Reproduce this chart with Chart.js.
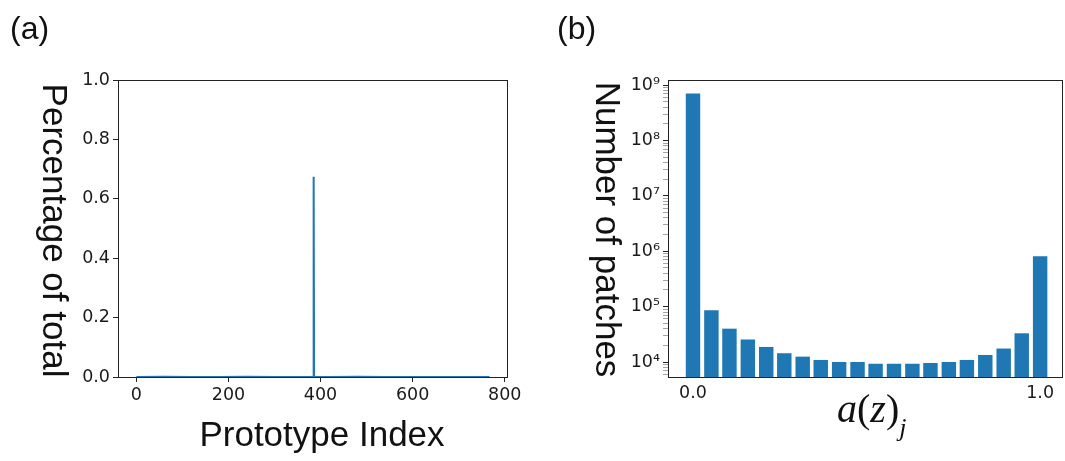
<!DOCTYPE html>
<html>
<head>
<meta charset="utf-8">
<script src="https://cdn.jsdelivr.net/npm/chart.js@4.4.1/dist/chart.umd.min.js"></script>
<style>
  body { margin: 0; background: #fff; }
  #wrap { position: relative; width: 1065px; height: 461px; overflow: hidden; font-family: 'Liberation Sans', Arial, sans-serif; color: #111; }
  canvas { position: absolute; top: 0; }
  #shareChart { left: 0; }
  #countChart { left: 540px; }
  .lbl { position: absolute; white-space: nowrap; }
  .panel { font-size: 32px; line-height: 32px; top: 12px; }
  .title { font-size: 35px; line-height: 35px; }
  .vtitle { transform-origin: 0 0; transform: rotate(90deg); text-align: center; }
  .math { font-family: 'Liberation Serif', 'DejaVu Serif', serif; font-size: 40px; line-height: 40px; }
  .math sub { font-size: 26px; vertical-align: -14px; line-height: 0; }
</style>
</head>
<body>
<div id="wrap">
  <canvas id="shareChart" width="540" height="461"></canvas>
  <canvas id="countChart" width="525" height="461"></canvas>

  <div class="lbl panel" style="left:10px">(a)</div>
  <div class="lbl panel" style="left:557px">(b)</div>

  <div class="lbl title vtitle" style="left:72.6px; top:82px; width:297px">Percentage of total</div>
  <div class="lbl title" style="left:172px; top:416px; width:300px; text-align:center">Prototype Index</div>

  <div class="lbl title vtitle" style="left:626.3px; top:81px; width:297px">Number of patches</div>
  <div class="lbl math" style="left:837px; top:389px"><i>a</i>(<i>z</i>)<sub><i>j</i></sub></div>
</div>

<script>
// Panel (a): share of all patches assigned to each prototype
const protoIndex = [0, 60, 120, 180, 240, 300, 360, 384, 385, 386, 420, 480, 540, 600, 660, 720, 767];
const protoShare = [0.0004, 0.0005, 0.0004, 0.0003, 0.0005, 0.0004, 0.0004, 0.0004, 0.674, 0.0004, 0.0004, 0.0005, 0.0004, 0.0003, 0.0004, 0.0004, 0.0004];
const protoTicks = [0, 200, 400, 600, 800];
const shareTicks = [0, 0.2, 0.4, 0.6, 0.8, 1.0];

// Panel (b): histogram of a(z)_j on a log axis
const binCenters = [0.0, 0.053, 0.105, 0.158, 0.211, 0.263, 0.316, 0.368, 0.421, 0.474,
                    0.526, 0.579, 0.632, 0.684, 0.737, 0.789, 0.842, 0.895, 0.947, 1.0];
const patchCounts = [7.1e8, 8.6e4, 4.0e4, 2.55e4, 1.87e4, 1.44e4, 1.25e4, 1.09e4, 1.0e4, 1.0e4,
                     9.3e3, 9.3e3, 9.3e3, 9.6e3, 1.0e4, 1.09e4, 1.34e4, 1.75e4, 3.3e4, 8.1e5];
const binTicks = [0, 1];
const binTickLabels = ['0.0', '1.0'];
const countTicks = [1e4, 1e5, 1e6, 1e7, 1e8, 1e9];
const countTickLabels = ['10⁴', '10⁵', '10⁶', '10⁷', '10⁸', '10⁹'];

const BLUE = '#1f77b4';
const INK = '#1a1a1a';

Chart.defaults.font.family = "'DejaVu Sans', sans-serif";
Chart.defaults.font.size = 17.5;
Chart.defaults.color = INK;

// matplotlib style box around the plot area
const frame = {
    id: 'frame',
    afterDraw(chart) {
        const { ctx, chartArea: a } = chart;
        ctx.save();
        ctx.strokeStyle = '#222';
        ctx.lineWidth = 1;
        ctx.strokeRect(a.left + 0.5, a.top + 0.5, a.right - a.left, a.bottom - a.top);
        ctx.restore();
    }
};

const tickGrid = {
    drawOnChartArea: false,
    drawTicks: true,
    tickLength: 5,
    tickColor: '#222'
};

// 1. Prototype share line
new Chart(document.getElementById('shareChart'), {
    type: 'line',
    data: {
        datasets: [{
            data: protoIndex.map((x, i) => ({ x: x, y: protoShare[i] })),
            borderColor: BLUE,
            borderWidth: 2,
            pointRadius: 0,
            tension: 0,
            fill: false
        }]
    },
    options: {
        responsive: false,
        animation: false,
        layout: { padding: { left: 48, right: 33, top: 80, bottom: 54 } },
        plugins: { legend: { display: false }, tooltip: { enabled: false } },
        scales: {
            x: {
                type: 'linear',
                min: -40,
                max: 805,
                border: { display: false },
                grid: tickGrid,
                afterBuildTicks: s => { s.ticks = protoTicks.map(v => ({ value: v })); },
                afterFit: s => { s.height = 30; },
                ticks: { padding: 3, maxRotation: 0, callback: v => String(v) }
            },
            y: {
                type: 'linear',
                min: 0,
                max: 1,
                border: { display: false },
                grid: tickGrid,
                afterBuildTicks: s => { s.ticks = shareTicks.map(v => ({ value: v })); },
                afterFit: s => { s.width = 70; },
                ticks: { padding: 3, callback: v => v.toFixed(1) }
            }
        }
    },
    plugins: [frame]
});

// 2. Histogram with log counts
new Chart(document.getElementById('countChart'), {
    type: 'bar',
    data: {
        datasets: [{
            data: binCenters.map((x, i) => ({ x: x, y: patchCounts[i] })),
            backgroundColor: BLUE,
            borderWidth: 0,
            categoryPercentage: 1,
            barPercentage: 0.8
        }]
    },
    options: {
        responsive: false,
        animation: false,
        layout: { padding: { left: 58, right: 3, top: 80, bottom: 54 } },
        plugins: { legend: { display: false }, tooltip: { enabled: false } },
        scales: {
            x: {
                type: 'linear',
                min: -0.072,
                max: 1.063,
                offset: false,
                border: { display: false },
                grid: { drawOnChartArea: false, drawTicks: false },
                afterBuildTicks: s => { s.ticks = binTicks.map(v => ({ value: v })); },
                afterFit: s => { s.height = 30; },
                ticks: {
                    padding: 6,
                    maxRotation: 0,
                    callback: v => binTickLabels[binTicks.indexOf(v)]
                }
            },
            y: {
                type: 'logarithmic',
                min: 5360,
                max: 1.24e9,
                border: { display: false },
                grid: {
                    drawOnChartArea: false,
                    drawTicks: true,
                    tickLength: 5,
                    tickColor: c => (c.tick && c.tick.major) ? '#222' : '#666',
                    tickWidth: c => (c.tick && c.tick.major) ? 1 : 0.6
                },
                afterBuildTicks: s => {
                    const ticks = [];
                    [1e3].concat(countTicks).forEach(d => {
                        for (let k = 1; k < 10; k++) {
                            const v = d * k;
                            if (v >= s.min && v <= s.max) ticks.push({ value: v, major: k === 1 });
                        }
                    });
                    s.ticks = ticks;
                },
                afterFit: s => { s.width = 70; },
                ticks: {
                    padding: 3,
                    autoSkip: false,
                    callback: v => {
                        const i = countTicks.indexOf(v);
                        return i >= 0 ? countTickLabels[i] : '';
                    }
                }
            }
        }
    },
    plugins: [frame]
});
</script>
</body>
</html>
